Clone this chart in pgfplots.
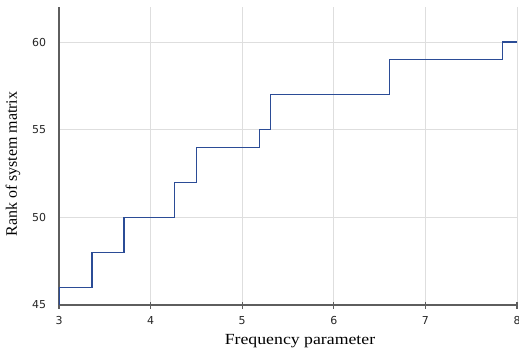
\documentclass[border=0pt]{standalone}
\usepackage{fontspec}
\setmainfont{DejaVu Sans}
\newfontfamily\ylabfont{Liberation Serif}
\newfontfamily\xlabfont[FakeStretch=1.15]{Liberation Serif}
\usepackage{pgfplots}
\pgfplotsset{compat=1.18}
\definecolor{lineblue}{HTML}{2B4C96}
\definecolor{axgray}{HTML}{5E5E5E}
\definecolor{gridgray}{HTML}{DEDEDE}
\begin{document}
\begin{tikzpicture}
\begin{axis}[
  at={(0,0)}, anchor=south west,
  scale only axis, width=458bp, height=298bp,
  xmin=3, xmax=8, ymin=45, ymax=62,
  xtick={3,4,5,6,7,8}, ytick={45,50,55,60},
  axis x line*=bottom, axis y line*=left,
  axis line style={-, color=axgray, line width=1.3bp},
  grid=major,
  major grid style={color=gridgray, line width=0.9bp},
  tick align=center,
  major tick length=7bp,
  x tick style={color=axgray, line width=1.1bp},
  y tick style={draw=none},
  /pgf/number format/assume math mode=true,
  tick label style={font=\fontsize{11}{13}\selectfont, color=black!85},
  xticklabel style={yshift=-4bp},
  yticklabel style={xshift=-6bp},
  xlabel={\xlabfont\fontsize{15.5}{18}\selectfont Frequency parameter},
  ylabel={\ylabfont\fontsize{16}{19}\selectfont Rank of system matrix},
  every axis x label/.style={at={(axis description cs:0,0)}, anchor=base, xshift=241bp, yshift=-39bp},
  every axis y label/.style={at={(axis description cs:0,0.5)}, rotate=90, anchor=base, xshift=-8bp, yshift=42bp},
]
\addplot[const plot, color=lineblue, line width=1.15bp] coordinates {
(3,45) (3,46) (3.36,48) (3.71,50) (4.26,52) (4.50,54) (5.19,55) (5.31,57) (6.61,59) (7.84,60) (8,60)
};
\end{axis}
\pgfresetboundingbox
\path[use as bounding box] (-59bp,-45bp) rectangle (460bp,305bp);
\end{tikzpicture}
\end{document}
